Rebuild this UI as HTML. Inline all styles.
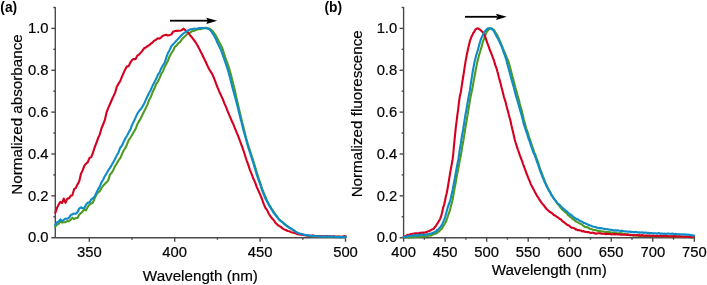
<!DOCTYPE html><html><head><meta charset="utf-8"><style>html,body{margin:0;padding:0;background:#fff}svg{display:block;filter:blur(0.3px)}</style></head><body>
<svg width="707" height="285" viewBox="0 0 707 285" font-family="Liberation Sans, sans-serif">
<g stroke="#4a4a4a" stroke-width="1.4" fill="none">
<line x1="55.3" y1="7" x2="55.3" y2="237.7"/>
<line x1="51.3" y1="237.7" x2="345.9" y2="237.7"/>
<line x1="53.3" y1="216.77" x2="55.3" y2="216.77"/>
<line x1="51.3" y1="195.84" x2="55.3" y2="195.84"/>
<line x1="53.3" y1="174.91" x2="55.3" y2="174.91"/>
<line x1="51.3" y1="153.98" x2="55.3" y2="153.98"/>
<line x1="53.3" y1="133.05" x2="55.3" y2="133.05"/>
<line x1="51.3" y1="112.12" x2="55.3" y2="112.12"/>
<line x1="53.3" y1="91.19" x2="55.3" y2="91.19"/>
<line x1="51.3" y1="70.26" x2="55.3" y2="70.26"/>
<line x1="53.3" y1="49.33" x2="55.3" y2="49.33"/>
<line x1="51.3" y1="28.40" x2="55.3" y2="28.40"/>
<line x1="53.3" y1="7.47" x2="55.3" y2="7.47"/>
<line x1="89.30" y1="237.7" x2="89.30" y2="241.7"/>
<line x1="132.00" y1="237.7" x2="132.00" y2="239.7"/>
<line x1="174.70" y1="237.7" x2="174.70" y2="241.7"/>
<line x1="217.40" y1="237.7" x2="217.40" y2="239.7"/>
<line x1="260.10" y1="237.7" x2="260.10" y2="241.7"/>
<line x1="302.80" y1="237.7" x2="302.80" y2="239.7"/>
<line x1="345.50" y1="237.7" x2="345.50" y2="241.7"/>
</g>
<g stroke="#4a4a4a" stroke-width="1.4" fill="none">
<line x1="403.6" y1="7" x2="403.6" y2="237.7"/>
<line x1="399.6" y1="237.7" x2="694.4" y2="237.7"/>
<line x1="401.6" y1="216.77" x2="403.6" y2="216.77"/>
<line x1="399.6" y1="195.84" x2="403.6" y2="195.84"/>
<line x1="401.6" y1="174.91" x2="403.6" y2="174.91"/>
<line x1="399.6" y1="153.98" x2="403.6" y2="153.98"/>
<line x1="401.6" y1="133.05" x2="403.6" y2="133.05"/>
<line x1="399.6" y1="112.12" x2="403.6" y2="112.12"/>
<line x1="401.6" y1="91.19" x2="403.6" y2="91.19"/>
<line x1="399.6" y1="70.26" x2="403.6" y2="70.26"/>
<line x1="401.6" y1="49.33" x2="403.6" y2="49.33"/>
<line x1="399.6" y1="28.40" x2="403.6" y2="28.40"/>
<line x1="401.6" y1="7.47" x2="403.6" y2="7.47"/>
<line x1="403.60" y1="237.7" x2="403.60" y2="241.7"/>
<line x1="424.36" y1="237.7" x2="424.36" y2="239.7"/>
<line x1="445.13" y1="237.7" x2="445.13" y2="241.7"/>
<line x1="465.89" y1="237.7" x2="465.89" y2="239.7"/>
<line x1="486.66" y1="237.7" x2="486.66" y2="241.7"/>
<line x1="507.42" y1="237.7" x2="507.42" y2="239.7"/>
<line x1="528.19" y1="237.7" x2="528.19" y2="241.7"/>
<line x1="548.95" y1="237.7" x2="548.95" y2="239.7"/>
<line x1="569.71" y1="237.7" x2="569.71" y2="241.7"/>
<line x1="590.48" y1="237.7" x2="590.48" y2="239.7"/>
<line x1="611.24" y1="237.7" x2="611.24" y2="241.7"/>
<line x1="632.01" y1="237.7" x2="632.01" y2="239.7"/>
<line x1="652.77" y1="237.7" x2="652.77" y2="241.7"/>
<line x1="673.54" y1="237.7" x2="673.54" y2="239.7"/>
<line x1="694.30" y1="237.7" x2="694.30" y2="241.7"/>
</g>
<g fill="none" stroke-width="2.1" stroke-linejoin="round" stroke-linecap="round">
<path stroke="#4f9a22" d="M55.3,226.6 L57.0,224.6 L58.7,223.9 L60.4,221.1 L62.1,222.6 L63.8,222.2 L65.5,222.2 L67.3,221.1 L69.0,221.2 L70.7,219.8 L72.4,217.7 L74.1,219.2 L75.8,218.0 L77.5,217.9 L79.2,214.8 L80.9,213.1 L82.6,211.7 L84.3,209.2 L86.0,210.4 L87.8,206.8 L89.5,204.7 L91.2,203.5 L92.9,202.5 L94.6,198.4 L96.3,194.7 L98.0,192.5 L99.7,191.3 L101.4,188.3 L103.1,185.7 L104.8,184.0 L106.5,182.2 L108.2,180.4 L110.0,174.6 L111.7,172.7 L113.4,169.7 L115.1,166.1 L116.8,163.5 L118.5,160.4 L120.2,158.2 L121.9,154.4 L123.6,150.5 L125.3,148.2 L127.0,144.4 L128.7,140.2 L130.5,137.5 L132.2,134.7 L133.9,131.8 L135.6,128.9 L137.3,124.3 L139.0,121.4 L140.7,118.4 L142.4,114.8 L144.1,111.5 L145.8,108.1 L147.5,104.6 L149.2,99.7 L150.9,96.8 L152.7,91.8 L154.4,88.6 L156.1,84.2 L157.8,81.8 L159.5,78.2 L161.2,74.0 L162.9,71.5 L164.6,67.0 L166.3,64.0 L168.0,60.5 L169.7,56.2 L171.4,53.1 L173.2,50.5 L174.9,46.7 L176.6,45.6 L178.3,43.1 L180.0,42.1 L181.7,39.5 L183.4,37.8 L185.1,36.2 L186.8,34.6 L188.5,33.0 L190.2,32.6 L191.9,31.2 L193.6,30.9 L195.4,30.3 L197.1,29.5 L198.8,29.3 L200.5,29.2 L202.2,28.6 L203.9,28.2 L205.6,27.8 L207.3,28.1 L209.0,28.5 L210.7,29.5 L212.4,30.8 L214.1,33.2 L215.9,35.7 L217.6,39.0 L219.3,42.3 L221.0,45.3 L222.7,49.2 L224.4,54.6 L226.1,59.8 L227.8,64.2 L229.5,69.5 L231.2,75.8 L232.9,82.6 L234.6,89.3 L236.3,97.3 L238.1,104.9 L239.8,112.2 L241.5,119.5 L243.2,126.3 L244.9,133.2 L246.6,139.9 L248.3,145.7 L250.0,150.7 L251.7,156.0 L253.4,161.3 L255.1,166.9 L256.8,172.5 L258.6,178.3 L260.3,183.0 L262.0,188.3 L263.7,192.7 L265.4,196.7 L267.1,200.8 L268.8,204.0 L270.5,206.9 L272.2,209.7 L273.9,212.1 L275.6,214.5 L277.3,216.8 L279.0,219.3 L280.8,220.9 L282.5,222.2 L284.2,223.8 L285.9,225.0 L287.6,226.3 L289.3,227.7 L291.0,228.6 L292.7,229.6 L294.4,230.8 L296.1,232.0 L297.8,232.9 L299.5,233.9 L301.3,234.0 L303.0,234.7 L304.7,235.0 L306.4,235.2 L308.1,235.7 L309.8,235.9 L311.5,235.9 L313.2,236.5 L314.9,236.2 L316.6,236.5 L318.3,236.6 L320.0,236.7 L321.7,236.6 L323.5,236.7 L325.2,236.8 L326.9,237.0 L328.6,236.7 L330.3,236.9 L332.0,236.8 L333.7,236.6 L335.4,237.3 L337.1,236.9 L338.8,236.6 L340.5,237.2 L342.2,236.7 L344.0,237.1 L345.7,237.2 L345.7,236.9"/>
<path stroke="#d5001f" d="M55.3,213.0 L57.0,207.9 L58.7,204.5 L60.4,201.9 L62.1,203.0 L63.8,198.6 L65.5,202.8 L67.3,198.6 L69.0,198.4 L70.7,195.7 L72.4,195.2 L74.1,189.2 L75.8,188.0 L77.5,184.4 L79.2,181.5 L80.9,174.0 L82.6,170.4 L84.3,165.9 L86.0,163.7 L87.8,162.1 L89.5,157.9 L91.2,157.2 L92.9,152.9 L94.6,147.5 L96.3,143.2 L98.0,138.3 L99.7,134.6 L101.4,128.7 L103.1,124.5 L104.8,120.2 L106.5,112.7 L108.2,108.2 L110.0,104.0 L111.7,100.0 L113.4,96.4 L115.1,92.6 L116.8,86.8 L118.5,83.7 L120.2,81.2 L121.9,76.9 L123.6,72.9 L125.3,69.2 L127.0,66.4 L128.7,66.1 L130.5,62.3 L132.2,59.9 L133.9,59.0 L135.6,59.1 L137.3,55.6 L139.0,54.6 L140.7,52.8 L142.4,50.7 L144.1,48.3 L145.8,47.5 L147.5,46.1 L149.2,45.3 L150.9,43.7 L152.7,42.3 L154.4,40.6 L156.1,39.8 L157.8,38.2 L159.5,38.6 L161.2,37.3 L162.9,35.7 L164.6,35.2 L166.3,34.8 L168.0,35.6 L169.7,35.1 L171.4,34.4 L173.2,31.7 L174.9,31.0 L176.6,30.9 L178.3,30.8 L180.0,30.8 L181.7,30.1 L183.4,28.7 L185.1,29.9 L186.8,31.6 L188.5,33.0 L190.2,35.5 L191.9,37.3 L193.6,39.6 L195.4,42.0 L197.1,44.7 L198.8,47.9 L200.5,51.3 L202.2,54.5 L203.9,58.3 L205.6,61.5 L207.3,65.4 L209.0,69.0 L210.7,71.6 L212.4,74.4 L214.1,78.4 L215.9,83.1 L217.6,87.7 L219.3,91.7 L221.0,95.4 L222.7,99.0 L224.4,103.3 L226.1,107.2 L227.8,111.7 L229.5,115.6 L231.2,119.7 L232.9,123.2 L234.6,127.4 L236.3,131.7 L238.1,135.8 L239.8,140.5 L241.5,145.2 L243.2,149.6 L244.9,155.0 L246.6,160.3 L248.3,164.9 L250.0,170.1 L251.7,174.2 L253.4,178.8 L255.1,182.4 L256.8,187.1 L258.6,191.0 L260.3,194.9 L262.0,199.0 L263.7,203.9 L265.4,207.8 L267.1,210.1 L268.8,213.7 L270.5,216.4 L272.2,218.5 L273.9,220.4 L275.6,223.0 L277.3,224.6 L279.0,225.9 L280.8,226.9 L282.5,228.4 L284.2,229.4 L285.9,230.0 L287.6,231.0 L289.3,231.2 L291.0,232.2 L292.7,232.6 L294.4,233.0 L296.1,233.5 L297.8,234.2 L299.5,234.5 L301.3,234.8 L303.0,235.0 L304.7,235.2 L306.4,235.5 L308.1,235.5 L309.8,235.8 L311.5,235.7 L313.2,235.4 L314.9,236.2 L316.6,236.5 L318.3,236.2 L320.0,236.1 L321.7,236.2 L323.5,236.2 L325.2,236.3 L326.9,236.1 L328.6,236.2 L330.3,236.2 L332.0,236.5 L333.7,236.4 L335.4,236.6 L337.1,236.5 L338.8,236.8 L340.5,236.6 L342.2,237.1 L344.0,236.1 L345.7,236.4 L345.7,236.8"/>
<path stroke="#0e8cc8" d="M55.3,225.1 L57.0,222.3 L58.7,221.7 L60.4,219.4 L62.1,221.0 L63.8,219.8 L65.5,218.6 L67.3,218.7 L69.0,217.9 L70.7,215.1 L72.4,214.2 L74.1,213.6 L75.8,213.8 L77.5,212.2 L79.2,208.5 L80.9,207.3 L82.6,208.2 L84.3,208.0 L86.0,204.7 L87.8,202.6 L89.5,202.5 L91.2,199.4 L92.9,198.3 L94.6,196.6 L96.3,192.9 L98.0,189.4 L99.7,186.9 L101.4,182.5 L103.1,179.8 L104.8,176.3 L106.5,173.6 L108.2,170.4 L110.0,167.9 L111.7,165.1 L113.4,162.1 L115.1,158.8 L116.8,155.4 L118.5,152.4 L120.2,147.7 L121.9,145.7 L123.6,142.0 L125.3,138.5 L127.0,135.7 L128.7,132.5 L130.5,129.4 L132.2,124.6 L133.9,121.2 L135.6,117.6 L137.3,113.8 L139.0,111.1 L140.7,109.2 L142.4,106.6 L144.1,103.8 L145.8,99.9 L147.5,96.2 L149.2,92.7 L150.9,89.7 L152.7,85.4 L154.4,82.3 L156.1,79.1 L157.8,74.8 L159.5,72.7 L161.2,68.4 L162.9,65.3 L164.6,62.9 L166.3,57.6 L168.0,52.9 L169.7,49.9 L171.4,46.1 L173.2,44.2 L174.9,42.4 L176.6,40.4 L178.3,38.6 L180.0,36.8 L181.7,35.1 L183.4,33.5 L185.1,32.3 L186.8,31.2 L188.5,30.3 L190.2,29.3 L191.9,29.4 L193.6,28.6 L195.4,28.8 L197.1,28.8 L198.8,28.1 L200.5,28.1 L202.2,28.1 L203.9,28.3 L205.6,27.9 L207.3,28.4 L209.0,29.0 L210.7,30.5 L212.4,33.2 L214.1,35.5 L215.9,39.2 L217.6,43.3 L219.3,46.6 L221.0,49.9 L222.7,55.0 L224.4,59.6 L226.1,64.7 L227.8,69.8 L229.5,75.8 L231.2,82.5 L232.9,89.2 L234.6,95.2 L236.3,101.4 L238.1,108.7 L239.8,115.8 L241.5,122.3 L243.2,129.3 L244.9,135.3 L246.6,141.6 L248.3,147.6 L250.0,152.6 L251.7,157.8 L253.4,163.2 L255.1,168.9 L256.8,174.7 L258.6,179.9 L260.3,184.6 L262.0,190.0 L263.7,194.4 L265.4,198.6 L267.1,201.5 L268.8,204.9 L270.5,207.7 L272.2,210.4 L273.9,213.2 L275.6,215.3 L277.3,217.3 L279.0,219.4 L280.8,221.2 L282.5,222.2 L284.2,223.7 L285.9,225.4 L287.6,226.5 L289.3,227.5 L291.0,228.6 L292.7,229.8 L294.4,230.7 L296.1,232.2 L297.8,232.9 L299.5,233.5 L301.3,233.7 L303.0,234.3 L304.7,234.9 L306.4,235.1 L308.1,235.3 L309.8,235.7 L311.5,236.1 L313.2,235.9 L314.9,236.1 L316.6,236.1 L318.3,236.2 L320.0,236.6 L321.7,236.6 L323.5,236.6 L325.2,236.4 L326.9,236.4 L328.6,236.6 L330.3,236.6 L332.0,236.7 L333.7,236.6 L335.4,236.9 L337.1,237.1 L338.8,237.1 L340.5,237.1 L342.2,236.9 L344.0,237.1 L345.7,236.8 L345.7,237.1"/>
<path stroke="#4f9a22" d="M403.5,237.5 L404.3,237.7 L405.2,237.5 L406.0,237.3 L406.8,237.0 L407.6,237.5 L408.5,237.5 L409.3,237.0 L410.1,237.6 L411.0,237.1 L411.8,237.5 L412.6,237.2 L413.5,237.0 L414.3,237.2 L415.1,237.0 L415.9,236.9 L416.8,236.8 L417.6,236.7 L418.4,236.8 L419.3,236.8 L420.1,236.7 L420.9,236.9 L421.8,236.2 L422.6,236.3 L423.4,236.5 L424.2,236.0 L425.1,236.5 L425.9,236.3 L426.7,236.0 L427.6,236.0 L428.4,235.7 L429.2,235.3 L430.1,235.6 L430.9,235.5 L431.7,235.1 L432.5,234.8 L433.4,234.1 L434.2,234.0 L435.0,233.7 L435.9,233.4 L436.7,233.2 L437.5,232.3 L438.4,231.6 L439.2,231.3 L440.0,230.4 L440.8,229.3 L441.7,228.9 L442.5,227.4 L443.3,226.2 L444.2,224.8 L445.0,223.5 L445.8,221.8 L446.7,219.5 L447.5,217.3 L448.3,214.7 L449.1,212.7 L450.0,209.9 L450.8,206.6 L451.6,203.8 L452.5,200.3 L453.3,195.8 L454.1,190.9 L455.0,186.4 L455.8,182.1 L456.6,177.6 L457.4,172.9 L458.3,168.8 L459.1,164.3 L459.9,159.8 L460.8,155.6 L461.6,150.8 L462.4,145.7 L463.3,141.0 L464.1,136.1 L464.9,130.9 L465.7,125.8 L466.6,121.0 L467.4,115.8 L468.2,111.1 L469.1,105.9 L469.9,100.8 L470.7,96.1 L471.6,92.0 L472.4,88.6 L473.2,83.7 L474.0,79.3 L474.9,74.6 L475.7,70.0 L476.5,66.1 L477.4,61.8 L478.2,58.5 L479.0,55.2 L479.9,52.5 L480.7,49.8 L481.5,47.1 L482.3,43.8 L483.2,40.9 L484.0,38.8 L484.8,36.2 L485.7,34.2 L486.5,32.4 L487.3,31.2 L488.2,30.0 L489.0,29.1 L489.8,28.4 L490.6,28.6 L491.5,28.7 L492.3,28.8 L493.1,29.3 L494.0,30.1 L494.8,31.3 L495.6,32.9 L496.5,34.0 L497.3,35.1 L498.1,37.2 L498.9,38.7 L499.8,41.0 L500.6,42.5 L501.4,44.6 L502.3,46.7 L503.1,48.8 L503.9,50.7 L504.8,52.7 L505.6,54.6 L506.4,56.5 L507.2,58.6 L508.1,60.5 L508.9,62.9 L509.7,65.9 L510.6,69.3 L511.4,72.4 L512.2,75.6 L513.1,78.8 L513.9,81.8 L514.7,85.0 L515.5,88.1 L516.4,91.0 L517.2,94.0 L518.0,97.2 L518.9,99.9 L519.7,103.5 L520.5,106.4 L521.4,109.2 L522.2,112.9 L523.0,115.8 L523.8,119.7 L524.7,122.6 L525.5,125.7 L526.3,128.6 L527.2,130.8 L528.0,133.3 L528.8,136.0 L529.7,138.8 L530.5,141.2 L531.3,143.7 L532.1,146.0 L533.0,148.4 L533.8,150.9 L534.6,153.1 L535.5,155.0 L536.3,157.6 L537.1,159.6 L538.0,162.0 L538.8,164.7 L539.6,167.2 L540.4,169.8 L541.3,171.9 L542.1,174.1 L542.9,176.3 L543.8,178.4 L544.6,180.5 L545.4,182.8 L546.3,184.5 L547.1,186.1 L547.9,187.9 L548.7,189.5 L549.6,191.2 L550.4,192.4 L551.2,194.3 L552.1,195.5 L552.9,197.0 L553.7,198.3 L554.6,199.4 L555.4,200.4 L556.2,201.6 L557.0,203.2 L557.9,204.4 L558.7,205.0 L559.5,206.1 L560.4,207.4 L561.2,208.1 L562.0,209.4 L562.9,209.9 L563.7,210.9 L564.5,211.5 L565.3,212.2 L566.2,212.8 L567.0,213.5 L567.8,214.9 L568.7,215.5 L569.5,216.0 L570.3,217.1 L571.2,217.2 L572.0,218.5 L572.8,219.0 L573.6,219.8 L574.5,219.8 L575.3,221.0 L576.1,221.5 L577.0,221.9 L577.8,222.2 L578.6,222.9 L579.5,223.4 L580.3,223.8 L581.1,224.1 L581.9,224.7 L582.8,225.2 L583.6,226.0 L584.4,226.5 L585.3,227.0 L586.1,227.1 L586.9,227.1 L587.8,227.6 L588.6,227.9 L589.4,228.4 L590.2,229.0 L591.1,229.0 L591.9,229.2 L592.7,229.7 L593.6,229.9 L594.4,230.2 L595.2,230.1 L596.1,230.3 L596.9,230.5 L597.7,230.9 L598.5,231.0 L599.4,230.9 L600.2,231.6 L601.0,231.2 L601.9,231.4 L602.7,231.5 L603.5,231.5 L604.4,231.7 L605.2,231.9 L606.0,232.0 L606.8,232.1 L607.7,232.0 L608.5,232.0 L609.3,232.5 L610.2,232.3 L611.0,232.7 L611.8,232.6 L612.7,233.0 L613.5,232.6 L614.3,232.4 L615.1,232.7 L616.0,233.1 L616.8,233.3 L617.6,233.3 L618.5,233.2 L619.3,233.4 L620.1,233.0 L621.0,233.2 L621.8,233.3 L622.6,233.7 L623.4,234.0 L624.3,233.9 L625.1,234.1 L625.9,234.1 L626.8,234.2 L627.6,234.5 L628.4,234.9 L629.3,234.8 L630.1,234.9 L630.9,235.2 L631.7,235.2 L632.6,235.1 L633.4,235.7 L634.2,235.4 L635.1,235.5 L635.9,235.6 L636.7,235.8 L637.6,235.7 L638.4,235.8 L639.2,236.1 L640.0,235.7 L640.9,235.5 L641.7,236.1 L642.5,236.0 L643.4,236.1 L644.2,236.1 L645.0,235.9 L645.9,236.0 L646.7,235.6 L647.5,236.0 L648.3,236.0 L649.2,235.8 L650.0,235.9 L650.8,236.0 L651.7,236.1 L652.5,236.1 L653.3,236.4 L654.2,236.3 L655.0,236.3 L655.8,235.8 L656.6,236.1 L657.5,236.2 L658.3,236.1 L659.1,236.2 L660.0,236.1 L660.8,236.0 L661.6,236.2 L662.5,236.3 L663.3,236.2 L664.1,236.3 L664.9,236.5 L665.8,236.4 L666.6,236.5 L667.4,236.5 L668.3,236.4 L669.1,236.3 L669.9,236.8 L670.8,236.5 L671.6,236.6 L672.4,236.4 L673.2,236.2 L674.1,236.3 L674.9,236.5 L675.7,236.4 L676.6,236.8 L677.4,236.6 L678.2,236.6 L679.1,237.0 L679.9,236.7 L680.7,236.7 L681.5,237.2 L682.4,236.9 L683.2,236.9 L684.0,236.8 L684.9,237.2 L685.7,237.2 L686.5,236.6 L687.4,237.0 L688.2,237.1 L689.0,237.2 L689.8,236.9 L690.7,237.2 L691.5,237.6 L692.3,237.5 L693.2,237.1 L694.0,237.4"/>
<path stroke="#d5001f" d="M403.5,237.2 L404.3,236.8 L405.2,236.1 L406.0,236.0 L406.8,235.4 L407.6,234.8 L408.5,234.7 L409.3,234.7 L410.1,234.5 L411.0,234.0 L411.8,234.1 L412.6,233.8 L413.5,233.8 L414.3,233.6 L415.1,233.2 L415.9,233.5 L416.8,233.2 L417.6,233.5 L418.4,233.3 L419.3,233.1 L420.1,232.8 L420.9,232.9 L421.8,232.8 L422.6,232.5 L423.4,233.0 L424.2,232.6 L425.1,232.7 L425.9,232.0 L426.7,232.3 L427.6,231.5 L428.4,231.3 L429.2,231.2 L430.1,230.7 L430.9,229.9 L431.7,229.6 L432.5,229.4 L433.4,229.0 L434.2,228.0 L435.0,226.8 L435.9,225.9 L436.7,224.4 L437.5,223.5 L438.4,221.8 L439.2,220.7 L440.0,219.1 L440.8,217.2 L441.7,214.1 L442.5,210.7 L443.3,207.1 L444.2,204.3 L445.0,201.0 L445.8,196.8 L446.7,193.2 L447.5,189.0 L448.3,184.3 L449.1,179.4 L450.0,173.9 L450.8,169.4 L451.6,165.0 L452.5,160.3 L453.3,153.5 L454.1,144.4 L455.0,135.4 L455.8,127.7 L456.6,121.4 L457.4,114.7 L458.3,108.3 L459.1,101.1 L459.9,95.8 L460.8,92.2 L461.6,87.1 L462.4,81.5 L463.3,76.3 L464.1,70.8 L464.9,65.7 L465.7,60.6 L466.6,55.9 L467.4,52.0 L468.2,48.3 L469.1,44.5 L469.9,41.2 L470.7,38.8 L471.6,36.4 L472.4,34.9 L473.2,33.1 L474.0,32.3 L474.9,30.5 L475.7,29.2 L476.5,28.9 L477.4,28.4 L478.2,28.5 L479.0,29.0 L479.9,29.7 L480.7,30.2 L481.5,31.0 L482.3,31.7 L483.2,32.6 L484.0,34.2 L484.8,35.9 L485.7,38.2 L486.5,40.6 L487.3,42.9 L488.2,45.3 L489.0,47.4 L489.8,50.0 L490.6,51.7 L491.5,53.9 L492.3,56.0 L493.1,58.4 L494.0,60.4 L494.8,63.4 L495.6,65.8 L496.5,68.2 L497.3,71.3 L498.1,74.0 L498.9,77.5 L499.8,80.6 L500.6,83.5 L501.4,87.0 L502.3,90.1 L503.1,93.4 L503.9,96.8 L504.8,99.4 L505.6,102.1 L506.4,105.5 L507.2,108.5 L508.1,111.7 L508.9,115.1 L509.7,118.1 L510.6,121.3 L511.4,125.3 L512.2,128.7 L513.1,132.3 L513.9,135.9 L514.7,139.5 L515.5,142.2 L516.4,145.0 L517.2,147.7 L518.0,150.0 L518.9,152.4 L519.7,154.8 L520.5,157.0 L521.4,159.3 L522.2,161.4 L523.0,163.8 L523.8,166.0 L524.7,168.3 L525.5,170.7 L526.3,173.0 L527.2,175.2 L528.0,177.1 L528.8,179.2 L529.7,181.1 L530.5,183.3 L531.3,185.2 L532.1,186.5 L533.0,188.4 L533.8,189.8 L534.6,191.4 L535.5,193.0 L536.3,194.4 L537.1,196.1 L538.0,197.1 L538.8,198.6 L539.6,200.0 L540.4,201.0 L541.3,202.5 L542.1,203.2 L542.9,204.5 L543.8,205.2 L544.6,206.5 L545.4,207.5 L546.3,208.7 L547.1,209.4 L547.9,210.3 L548.7,210.8 L549.6,211.9 L550.4,212.1 L551.2,212.8 L552.1,213.2 L552.9,214.1 L553.7,214.9 L554.6,215.2 L555.4,215.8 L556.2,216.4 L557.0,217.0 L557.9,217.5 L558.7,217.9 L559.5,219.0 L560.4,219.0 L561.2,219.8 L562.0,220.7 L562.9,221.5 L563.7,222.0 L564.5,222.6 L565.3,223.3 L566.2,223.9 L567.0,224.7 L567.8,225.0 L568.7,225.4 L569.5,226.0 L570.3,226.6 L571.2,227.3 L572.0,227.8 L572.8,227.8 L573.6,228.0 L574.5,228.4 L575.3,229.4 L576.1,229.2 L577.0,229.7 L577.8,230.3 L578.6,230.0 L579.5,230.4 L580.3,230.5 L581.1,230.6 L581.9,231.2 L582.8,231.4 L583.6,231.0 L584.4,231.8 L585.3,231.7 L586.1,231.9 L586.9,232.1 L587.8,231.9 L588.6,232.2 L589.4,232.2 L590.2,232.9 L591.1,233.0 L591.9,232.8 L592.7,232.6 L593.6,233.2 L594.4,233.0 L595.2,233.5 L596.1,233.6 L596.9,233.6 L597.7,233.3 L598.5,233.2 L599.4,233.3 L600.2,233.5 L601.0,233.4 L601.9,233.9 L602.7,233.8 L603.5,233.8 L604.4,233.7 L605.2,234.0 L606.0,234.2 L606.8,233.6 L607.7,234.0 L608.5,234.0 L609.3,233.9 L610.2,234.0 L611.0,234.2 L611.8,234.5 L612.7,234.2 L613.5,234.2 L614.3,234.0 L615.1,234.5 L616.0,234.2 L616.8,234.3 L617.6,234.5 L618.5,234.4 L619.3,234.4 L620.1,234.5 L621.0,234.7 L621.8,234.6 L622.6,234.7 L623.4,234.7 L624.3,234.6 L625.1,234.8 L625.9,234.7 L626.8,235.0 L627.6,234.9 L628.4,234.5 L629.3,234.9 L630.1,235.2 L630.9,234.9 L631.7,234.9 L632.6,235.2 L633.4,234.9 L634.2,235.1 L635.1,235.3 L635.9,235.3 L636.7,235.0 L637.6,235.0 L638.4,235.6 L639.2,235.1 L640.0,235.3 L640.9,235.7 L641.7,235.3 L642.5,235.0 L643.4,235.8 L644.2,235.6 L645.0,235.5 L645.9,235.9 L646.7,235.5 L647.5,235.8 L648.3,235.6 L649.2,235.5 L650.0,235.7 L650.8,235.8 L651.7,235.9 L652.5,235.9 L653.3,235.6 L654.2,235.7 L655.0,236.1 L655.8,235.9 L656.6,235.8 L657.5,236.1 L658.3,236.1 L659.1,236.1 L660.0,235.8 L660.8,235.8 L661.6,236.1 L662.5,236.2 L663.3,235.7 L664.1,235.9 L664.9,236.0 L665.8,236.3 L666.6,235.9 L667.4,236.5 L668.3,236.2 L669.1,236.3 L669.9,236.6 L670.8,236.3 L671.6,236.4 L672.4,236.2 L673.2,236.4 L674.1,236.1 L674.9,236.3 L675.7,236.4 L676.6,236.2 L677.4,236.6 L678.2,236.6 L679.1,236.1 L679.9,236.7 L680.7,236.4 L681.5,236.7 L682.4,236.4 L683.2,236.6 L684.0,236.7 L684.9,237.1 L685.7,236.4 L686.5,236.7 L687.4,236.7 L688.2,237.0 L689.0,236.8 L689.8,236.9 L690.7,237.2 L691.5,237.1 L692.3,236.9 L693.2,236.9 L694.0,236.9"/>
<path stroke="#0e8cc8" d="M403.5,237.3 L404.3,237.0 L405.2,237.2 L406.0,236.6 L406.8,236.5 L407.6,236.6 L408.5,235.9 L409.3,235.9 L410.1,235.9 L411.0,235.7 L411.8,235.5 L412.6,235.6 L413.5,235.5 L414.3,235.6 L415.1,235.1 L415.9,235.3 L416.8,235.6 L417.6,235.6 L418.4,234.9 L419.3,235.3 L420.1,234.9 L420.9,234.8 L421.8,234.8 L422.6,234.8 L423.4,235.0 L424.2,234.9 L425.1,234.7 L425.9,234.5 L426.7,234.4 L427.6,234.3 L428.4,234.3 L429.2,233.9 L430.1,233.8 L430.9,233.6 L431.7,233.3 L432.5,233.0 L433.4,232.6 L434.2,232.4 L435.0,231.7 L435.9,231.5 L436.7,230.6 L437.5,229.9 L438.4,229.3 L439.2,228.5 L440.0,227.4 L440.8,226.5 L441.7,225.2 L442.5,223.6 L443.3,221.7 L444.2,219.6 L445.0,217.5 L445.8,214.5 L446.7,211.2 L447.5,208.3 L448.3,205.6 L449.1,203.8 L450.0,201.1 L450.8,198.3 L451.6,194.4 L452.5,190.4 L453.3,186.2 L454.1,182.2 L455.0,177.4 L455.8,172.7 L456.6,168.5 L457.4,164.0 L458.3,159.7 L459.1,154.5 L459.9,148.7 L460.8,143.9 L461.6,138.0 L462.4,133.5 L463.3,128.5 L464.1,123.1 L464.9,118.1 L465.7,113.2 L466.6,108.8 L467.4,103.8 L468.2,98.9 L469.1,94.4 L469.9,90.4 L470.7,84.4 L471.6,78.7 L472.4,73.5 L473.2,68.9 L474.0,64.7 L474.9,60.5 L475.7,57.3 L476.5,54.3 L477.4,51.5 L478.2,48.9 L479.0,45.4 L479.9,42.5 L480.7,39.8 L481.5,37.7 L482.3,36.1 L483.2,34.2 L484.0,32.7 L484.8,31.5 L485.7,30.4 L486.5,29.6 L487.3,28.9 L488.2,28.2 L489.0,28.4 L489.8,28.2 L490.6,28.4 L491.5,28.3 L492.3,29.6 L493.1,29.9 L494.0,31.5 L494.8,32.8 L495.6,34.2 L496.5,36.2 L497.3,37.6 L498.1,38.8 L498.9,40.5 L499.8,42.3 L500.6,44.4 L501.4,45.8 L502.3,48.3 L503.1,50.9 L503.9,53.0 L504.8,55.2 L505.6,57.6 L506.4,60.3 L507.2,63.5 L508.1,66.8 L508.9,69.6 L509.7,72.7 L510.6,76.1 L511.4,79.0 L512.2,81.9 L513.1,85.0 L513.9,87.8 L514.7,91.1 L515.5,94.1 L516.4,97.1 L517.2,99.7 L518.0,102.6 L518.9,105.7 L519.7,108.6 L520.5,111.5 L521.4,114.5 L522.2,117.4 L523.0,120.6 L523.8,124.2 L524.7,126.7 L525.5,129.3 L526.3,131.7 L527.2,134.1 L528.0,137.1 L528.8,139.4 L529.7,141.5 L530.5,144.2 L531.3,146.5 L532.1,148.9 L533.0,151.5 L533.8,153.2 L534.6,155.1 L535.5,157.5 L536.3,159.6 L537.1,162.1 L538.0,164.4 L538.8,166.9 L539.6,169.1 L540.4,171.6 L541.3,173.6 L542.1,176.0 L542.9,177.9 L543.8,179.8 L544.6,182.0 L545.4,183.6 L546.3,185.7 L547.1,187.2 L547.9,188.9 L548.7,190.3 L549.6,191.8 L550.4,192.8 L551.2,194.9 L552.1,195.8 L552.9,197.4 L553.7,198.3 L554.6,199.6 L555.4,200.7 L556.2,201.6 L557.0,202.7 L557.9,203.6 L558.7,204.2 L559.5,204.8 L560.4,205.7 L561.2,206.7 L562.0,207.6 L562.9,208.2 L563.7,208.8 L564.5,209.3 L565.3,210.4 L566.2,210.9 L567.0,211.6 L567.8,212.5 L568.7,213.2 L569.5,213.9 L570.3,214.3 L571.2,215.1 L572.0,215.5 L572.8,216.5 L573.6,217.1 L574.5,217.8 L575.3,218.2 L576.1,218.6 L577.0,219.5 L577.8,219.4 L578.6,219.8 L579.5,220.4 L580.3,221.1 L581.1,221.4 L581.9,221.8 L582.8,222.1 L583.6,223.0 L584.4,223.0 L585.3,223.3 L586.1,223.8 L586.9,224.1 L587.8,224.5 L588.6,225.1 L589.4,225.1 L590.2,225.5 L591.1,225.7 L591.9,226.1 L592.7,226.5 L593.6,226.7 L594.4,226.8 L595.2,226.9 L596.1,227.3 L596.9,227.7 L597.7,227.7 L598.5,227.9 L599.4,227.7 L600.2,228.4 L601.0,228.1 L601.9,228.3 L602.7,228.6 L603.5,228.8 L604.4,228.9 L605.2,228.9 L606.0,229.1 L606.8,229.2 L607.7,229.1 L608.5,229.5 L609.3,229.5 L610.2,229.8 L611.0,229.8 L611.8,230.1 L612.7,230.1 L613.5,230.2 L614.3,230.4 L615.1,230.4 L616.0,230.3 L616.8,230.7 L617.6,230.3 L618.5,230.6 L619.3,230.8 L620.1,230.7 L621.0,231.0 L621.8,230.8 L622.6,230.9 L623.4,231.2 L624.3,231.3 L625.1,231.5 L625.9,231.4 L626.8,231.5 L627.6,231.7 L628.4,231.7 L629.3,231.4 L630.1,231.6 L630.9,232.1 L631.7,231.7 L632.6,232.1 L633.4,232.0 L634.2,232.3 L635.1,232.0 L635.9,232.2 L636.7,231.9 L637.6,232.4 L638.4,232.6 L639.2,232.2 L640.0,232.8 L640.9,232.4 L641.7,232.6 L642.5,232.3 L643.4,232.9 L644.2,232.6 L645.0,232.7 L645.9,232.6 L646.7,232.7 L647.5,233.1 L648.3,232.8 L649.2,233.2 L650.0,233.0 L650.8,233.1 L651.7,233.0 L652.5,233.2 L653.3,233.6 L654.2,233.3 L655.0,233.3 L655.8,233.2 L656.6,233.5 L657.5,233.6 L658.3,233.0 L659.1,233.1 L660.0,233.8 L660.8,233.6 L661.6,233.5 L662.5,233.6 L663.3,233.8 L664.1,233.8 L664.9,233.6 L665.8,234.1 L666.6,233.7 L667.4,233.6 L668.3,233.6 L669.1,233.8 L669.9,233.7 L670.8,233.8 L671.6,233.9 L672.4,233.5 L673.2,233.8 L674.1,234.2 L674.9,234.1 L675.7,233.9 L676.6,234.0 L677.4,234.4 L678.2,234.2 L679.1,234.1 L679.9,234.7 L680.7,234.3 L681.5,234.5 L682.4,234.4 L683.2,234.5 L684.0,234.4 L684.9,234.4 L685.7,234.9 L686.5,234.5 L687.4,234.8 L688.2,234.6 L689.0,234.9 L689.8,235.0 L690.7,234.8 L691.5,235.4 L692.3,235.3 L693.2,235.7 L694.0,235.4"/>
</g>
<g font-size="14.8" fill="#000" stroke="#000" stroke-width="0.2">
<text transform="translate(48.6,242.45) scale(1,1.03)" text-anchor="end">0.0</text>
<text transform="translate(397.2,242.45) scale(1,1.03)" text-anchor="end">0.0</text>
<text transform="translate(48.6,200.59) scale(1,1.03)" text-anchor="end">0.2</text>
<text transform="translate(397.2,200.59) scale(1,1.03)" text-anchor="end">0.2</text>
<text transform="translate(48.6,158.73) scale(1,1.03)" text-anchor="end">0.4</text>
<text transform="translate(397.2,158.73) scale(1,1.03)" text-anchor="end">0.4</text>
<text transform="translate(48.6,116.87) scale(1,1.03)" text-anchor="end">0.6</text>
<text transform="translate(397.2,116.87) scale(1,1.03)" text-anchor="end">0.6</text>
<text transform="translate(48.6,75.01) scale(1,1.03)" text-anchor="end">0.8</text>
<text transform="translate(397.2,75.01) scale(1,1.03)" text-anchor="end">0.8</text>
<text transform="translate(48.6,33.15) scale(1,1.03)" text-anchor="end">1.0</text>
<text transform="translate(397.2,33.15) scale(1,1.03)" text-anchor="end">1.0</text>
<text transform="translate(89.3,256.7) scale(1,1.03)" text-anchor="middle">350</text>
<text transform="translate(174.7,256.7) scale(1,1.03)" text-anchor="middle">400</text>
<text transform="translate(260.1,256.7) scale(1,1.03)" text-anchor="middle">450</text>
<text transform="translate(345.5,256.7) scale(1,1.03)" text-anchor="middle">500</text>
<text transform="translate(403.6,256.7) scale(1,1.03)" text-anchor="middle">400</text>
<text transform="translate(445.1,256.7) scale(1,1.03)" text-anchor="middle">450</text>
<text transform="translate(486.7,256.7) scale(1,1.03)" text-anchor="middle">500</text>
<text transform="translate(528.2,256.7) scale(1,1.03)" text-anchor="middle">550</text>
<text transform="translate(569.7,256.7) scale(1,1.03)" text-anchor="middle">600</text>
<text transform="translate(611.2,256.7) scale(1,1.03)" text-anchor="middle">650</text>
<text transform="translate(652.8,256.7) scale(1,1.03)" text-anchor="middle">700</text>
<text transform="translate(694.3,256.7) scale(1,1.03)" text-anchor="middle">750</text>
</g>
<g font-size="15.2" fill="#000" stroke="#000" stroke-width="0.2">
<text x="200.4" y="280.8" text-anchor="middle">Wavelength (nm)</text>
<text x="549.2" y="274.6" text-anchor="middle">Wavelength (nm)</text>
<text transform="translate(21.7,114.5) rotate(-90)" text-anchor="middle">Normalized absorbance</text>
<text transform="translate(362.2,113.8) rotate(-90)" text-anchor="middle">Normalized fluorescence</text>
</g>
<g font-size="13.8" font-weight="bold" fill="#000">
<text x="0.3" y="11.5">(a)</text>
<text x="324.5" y="11.5">(b)</text>
</g>
<g fill="#000" stroke="none">
<rect x="170" y="19.8" width="38" height="1.8"/>
<path d="M206.3,17.7 L217.2,20.7 L206.3,23.9 L207.8,20.7 Z"/>
<rect x="465" y="15.9" width="32" height="1.8"/>
<path d="M496,13.8 L506.8,16.8 L496,20 L497.5,16.8 Z"/>
</g>
</svg></body></html>
